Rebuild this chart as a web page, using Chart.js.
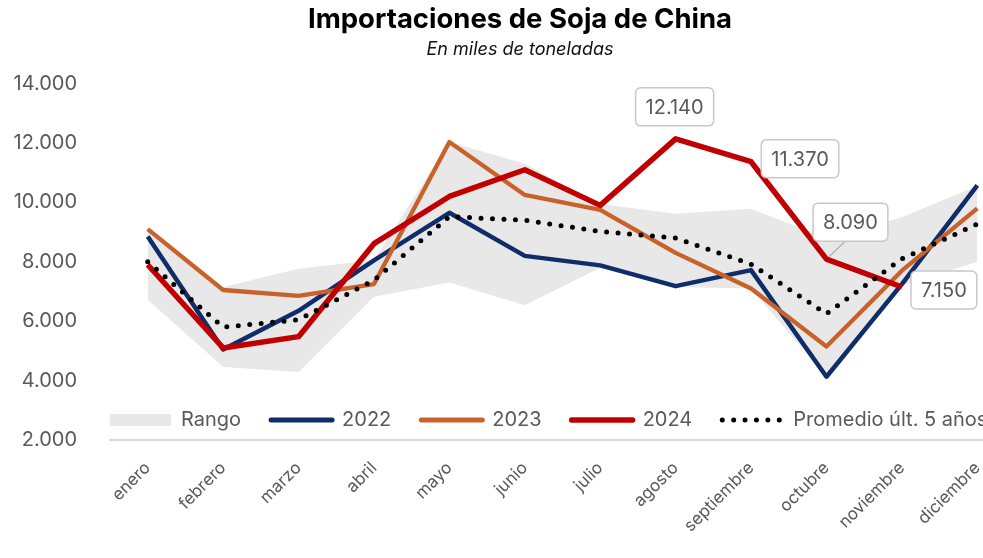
<!DOCTYPE html>
<html>
<head>
<meta charset="utf-8">
<script src="https://cdn.jsdelivr.net/npm/chart.js@4.4.1/dist/chart.umd.min.js"></script>
<style>
html,body{margin:0;padding:0;background:#fff;overflow:hidden;}
#wrap{width:1040px;height:558px;}
</style>
</head>
<body>
<div id="wrap"><canvas id="c" width="1040" height="558"></canvas></div>
<script>
// ---- Data ----
const meses = ['enero','febrero','marzo','abril','mayo','junio','julio','agosto','septiembre','octubre','noviembre','diciembre'];
const serie2022 = [8850, 5050, 6350, 8050, 9650, 8200, 7880, 7180, 7720, 4130, 7250, 10570];
const serie2023 = [9100, 7050, 6850, 7250, 12030, 10250, 9750, 8300, 7100, 5150, 7700, 9800];
const serie2024 = [7900, 5100, 5480, 8610, 10200, 11100, 9900, 12140, 11370, 8090, 7150, null];
const promedio5 = [8000, 5800, 6050, 7380, 9520, 9400, 9020, 8800, 7920, 6250, 8100, 9270];
const rangoMin  = [6720, 4460, 4290, 6820, 7300, 6540, 7800, 7150, 7100, 4130, 7200, 8000];
const rangoMax  = [9150, 7150, 7770, 8050, 12030, 11300, 9950, 9620, 9790, 8800, 9500, 10550];
const yTickValues = [2000, 4000, 6000, 8000, 10000, 12000, 14000];
const indicesEtiquetas2024 = [7, 8, 9, 10];

// ---- Styles ----
const GRIS = '#595959';
const NAVY = '#0F2D69';
const NARANJA = '#C8622A';
const ROJO = '#C00000';
const BANDA = '#E8E8E8';
const FONT = 'Inter';
Chart.defaults.font.family = FONT;

function fmt(v){ return String(Math.round(v)).replace(/\B(?=(\d{3})+(?!\d))/g, '.'); }

// label box placement relative to the point (dx, dy, leader line)
const etiquetaPos = {7:[-1,-32,false], 8:[49,-3,false], 9:[24,-37,true], 10:[42,3,false]};

const legendDefs = [
  {text:'Rango', ds:1, pointStyle:'rect', fillStyle:BANDA, strokeStyle:BANDA, lineWidth:0},
  {text:'2022', ds:2, pointStyle:'line', fillStyle:NAVY, strokeStyle:NAVY, lineWidth:5, lineCap:'round'},
  {text:'2023', ds:3, pointStyle:'line', fillStyle:NARANJA, strokeStyle:NARANJA, lineWidth:5, lineCap:'round'},
  {text:'2024', ds:4, pointStyle:'line', fillStyle:ROJO, strokeStyle:ROJO, lineWidth:5.5, lineCap:'round'},
  {text:'Promedio últ. 5 años', ds:5, pointStyle:'line', fillStyle:'#000', strokeStyle:'#000', lineWidth:5, lineCap:'round', lineDash:[0,11.4]}
];

const posLegend = {
  id:'posLegend',
  beforeDraw(chart){
    const lg = chart.legend; if(!lg) return;
    lg.left = 80; lg.right = 1100; lg.top = 380; lg.bottom = 380 + 90;
    lg.width = lg.right - lg.left; lg.height = 90;
  }
};

const etiquetas = {
  id:'etiquetas',
  afterDatasetsDraw(chart){
    const meta = chart.getDatasetMeta(4);
    const ctx = chart.ctx;
    ctx.save();
    ctx.font = '20px ' + FONT;
    indicesEtiquetas2024.forEach(i => {
      const pt = meta.data[i];
      const [dx, dy, leader] = etiquetaPos[i];
      const txt = fmt(serie2024[i]);
      const w = ctx.measureText(txt).width + 20;
      const h = 38;
      const cx = pt.x + dx, cy = pt.y + dy;
      if (leader) {
        ctx.beginPath();
        ctx.strokeStyle = '#A6A6A6'; ctx.lineWidth = 1.2;
        ctx.moveTo(cx - 5, cy + h/2); ctx.lineTo(pt.x + 2, pt.y - 2);
        ctx.stroke();
      }
      ctx.beginPath();
      ctx.roundRect(cx - w/2, cy - h/2, w, h, 5);
      ctx.fillStyle = '#fff'; ctx.fill();
      ctx.strokeStyle = '#C8C8C8'; ctx.lineWidth = 1.5; ctx.stroke();
      ctx.fillStyle = GRIS; ctx.textAlign = 'center'; ctx.textBaseline = 'middle';
      ctx.fillText(txt, cx, cy + 1);
    });
    ctx.restore();
  }
};

new Chart(document.getElementById('c'), {
  type:'line',
  data:{
    labels: meses,
    datasets:[
      {label:'RangoMin', data:rangoMin, borderWidth:0, pointRadius:0, fill:false, order:7},
      {label:'Rango', data:rangoMax, borderWidth:0, pointRadius:0, backgroundColor:BANDA, fill:'-1', order:6},
      {label:'2022', data:serie2022, borderColor:NAVY, borderWidth:4.5, pointRadius:0, fill:false, borderJoinStyle:'round', order:4},
      {label:'2023', data:serie2023, borderColor:NARANJA, borderWidth:4.3, pointRadius:0, fill:false, borderJoinStyle:'round', order:3},
      {label:'2024', data:serie2024, borderColor:ROJO, borderWidth:5.5, pointRadius:0, fill:false, borderJoinStyle:'round', order:2},
      {label:'Promedio últ. 5 años', data:promedio5, borderColor:'#000', borderWidth:5, borderDash:[0,11.5], borderCapStyle:'round', pointRadius:0, fill:false, order:1}
    ]
  },
  options:{
    responsive:false,
    animation:false,
    events:[],
    layout:{padding:{left:0, right:0, top:0, bottom:0}},
    scales:{
      x:{
        offset:true,
        grid:{display:false},
        border:{display:true, color:'#D9D9D9', width:2},
        ticks:{color:GRIS, font:{size:17}, minRotation:45, maxRotation:45, padding:10, autoSkip:false},
        afterFit(s){ s.height = 117; s.paddingRight = 25; }
      },
      y:{
        min:2000, max:14000,
        afterBuildTicks(s){ s.ticks = yTickValues.map(v => ({value:v})); },
        grid:{display:false, drawTicks:false},
        border:{display:false},
        ticks:{color:GRIS, font:{size:20}, padding:33, callback:(v) => fmt(v)},
        afterFit(s){ s.width = 110; }
      }
    },
    plugins:{
      title:{display:true, text:'Importaciones de Soja de China', color:'#000', font:{size:27.5, weight:'bold'}, padding:{top:3, bottom:3}},
      subtitle:{display:true, text:'En miles de toneladas', color:'#111', font:{size:18, style:'italic'}, padding:{top:0, bottom:23}},
      legend:{
        position:'bottom', align:'start', maxHeight:1,
        labels:{
          usePointStyle:true, pointStyleWidth:61, boxWidth:61, boxHeight:12, padding:30,
          color:GRIS, font:{size:20},
          generateLabels(){
            return legendDefs.map(d => ({
              text:d.text, datasetIndex:d.ds, hidden:false, fontColor:GRIS,
              pointStyle:d.pointStyle, fillStyle:d.fillStyle, strokeStyle:d.strokeStyle,
              lineWidth:d.lineWidth, lineCap:d.lineCap || 'butt', lineDash:d.lineDash || []
            }));
          }
        }
      },
      tooltip:{enabled:false}
    }
  },
  plugins:[posLegend, etiquetas]
});
</script>
</body>
</html>
